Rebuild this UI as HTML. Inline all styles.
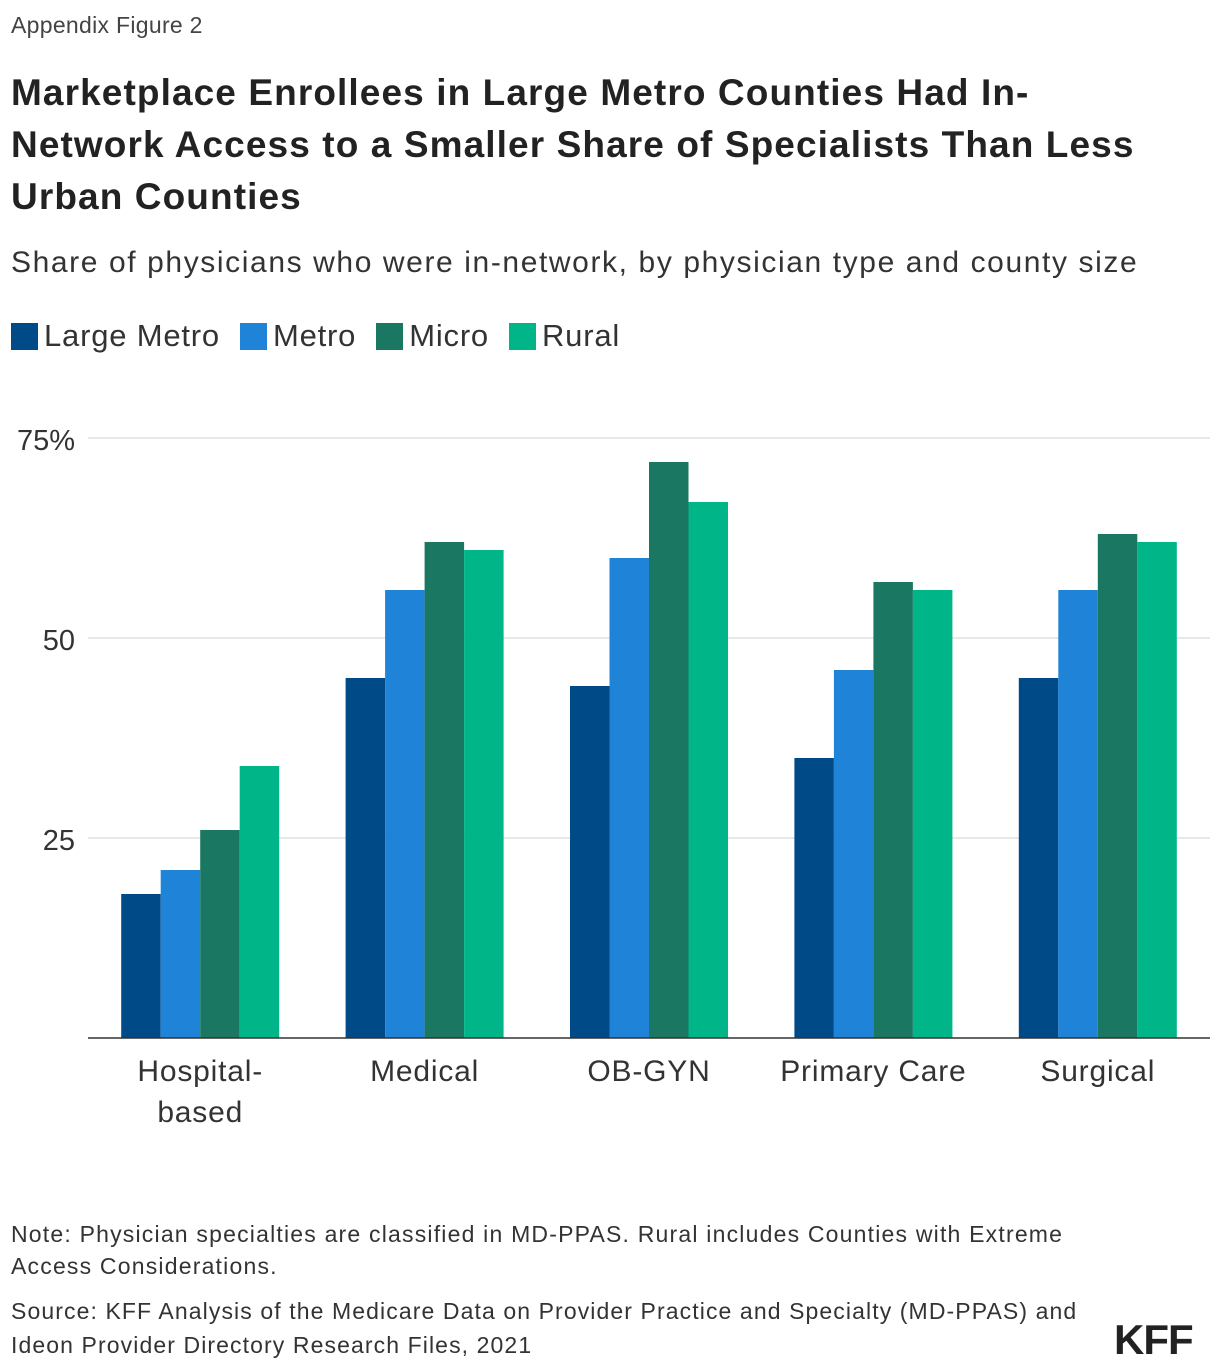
<!DOCTYPE html>
<html><head><meta charset="utf-8"><style>
body{margin:0;background:#fff;font-family:"Liberation Sans",sans-serif;color:#222;}
#wrap{position:relative;width:1220px;height:1370px;overflow:hidden;}
.t{position:absolute;left:11px;white-space:nowrap;}
</style></head><body><div id="wrap">
<div class="t" style="top:12px;font-size:23px;color:#444;letter-spacing:0.3px">Appendix Figure 2</div>
<div class="t" style="top:67px;font-size:37px;font-weight:bold;line-height:52px;color:#222;letter-spacing:1.1px">Marketplace Enrollees in Large Metro Counties Had In-<br>Network Access to a Smaller Share of Specialists Than Less<br>Urban Counties</div>
<div class="t" style="top:246px;font-size:30px;color:#333;letter-spacing:1.6px">Share of physicians who were in-network, by physician type and county size</div>
<div class="t" style="top:318px;font-size:31px;color:#333;display:flex;align-items:center;letter-spacing:0.8px">
<span style="display:flex;align-items:center;margin-right:20px"><i style="display:inline-block;width:27px;height:27px;background:#004a87;margin-right:6px"></i>Large Metro</span>
<span style="display:flex;align-items:center;margin-right:20px"><i style="display:inline-block;width:27px;height:27px;background:#1f83d8;margin-right:6px"></i>Metro</span>
<span style="display:flex;align-items:center;margin-right:20px"><i style="display:inline-block;width:27px;height:27px;background:#1a7761;margin-right:6px"></i>Micro</span>
<span style="display:flex;align-items:center"><i style="display:inline-block;width:27px;height:27px;background:#00b588;margin-right:6px"></i>Rural</span>
</div>
<svg id="chart" width="1220" height="1370" style="position:absolute;left:0;top:0"></svg>
<div class="t" style="top:1218px;font-size:23px;line-height:32px;color:#333;letter-spacing:1.2px">Note: Physician specialties are classified in MD-PPAS. Rural includes Counties with Extreme<br>Access Considerations.</div>
<div class="t" style="top:1294px;font-size:23px;line-height:34px;color:#333;letter-spacing:1.1px">Source: KFF Analysis of the Medicare Data on Provider Practice and Specialty (MD-PPAS) and<br>Ideon Provider Directory Research Files, 2021</div>
<div style="position:absolute;left:1114px;top:1316px;font-size:42px;font-weight:bold;color:#222;letter-spacing:-1px">KFF</div>
</div>
<script>
const categories=["Hospital-\nbased","Medical","OB-GYN","Primary Care","Surgical"];
const largeMetro=[18,45,44,35,45];
const metro=[21,56,60,46,56];
const micro=[26,62,72,57,63];
const rural=[34,61,67,56,62];
const yTicks=[25,50,75];
const yTickLabels=["25","50","75%"];
const series=[largeMetro,metro,micro,rural];
const seriesNames=["large-metro","metro","micro","rural"];
const colors=["#004a87","#1f83d8","#1a7761","#00b588"];
const NS="http://www.w3.org/2000/svg";
const svg=document.getElementById('chart');
const x0=88,x1=1210,y0=1038,yPerUnit=8;
const y=v=>y0-v*yPerUnit;
const gw=(x1-x0)/categories.length;
const bw=39.5;
function mk(tag,attrs){const e=document.createElementNS(NS,tag);for(const k in attrs)e.setAttribute(k,attrs[k]);svg.appendChild(e);return e;}
yTicks.forEach((t,i)=>{
 const l=mk('line',{x1:x0,x2:x1,y1:y(t),y2:y(t),stroke:'#d0d0d0','stroke-width':1});
 
 
 const tx=mk('text',{x:75,y:y(t)+12,'text-anchor':'end','font-size':29,fill:'#333','font-family':'Liberation Sans, sans-serif'});
 tx.textContent=yTickLabels[i];
 
 
});
categories.forEach((c,ci)=>{
 const cx=x0+gw*(ci+0.5);
 series.forEach((s,si)=>{
  const bx=cx-2*bw+si*bw;
  const r=mk('rect',{x:bx,y:y(s[ci]),width:bw,height:s[ci]*yPerUnit,fill:colors[si]});
  
  
 });
 c.split('\n').forEach((line,li)=>{
  const t=mk('text',{x:cx,y:1081+li*41,'text-anchor':'middle','font-size':30,fill:'#333','letter-spacing':'0.8','font-family':'Liberation Sans, sans-serif'});
  t.textContent=line;
  
  
 });
});
const ax=mk('line',{x1:x0,x2:x1,y1:y0,y2:y0,stroke:'#333','stroke-width':1.5});


</script>
</body></html>
